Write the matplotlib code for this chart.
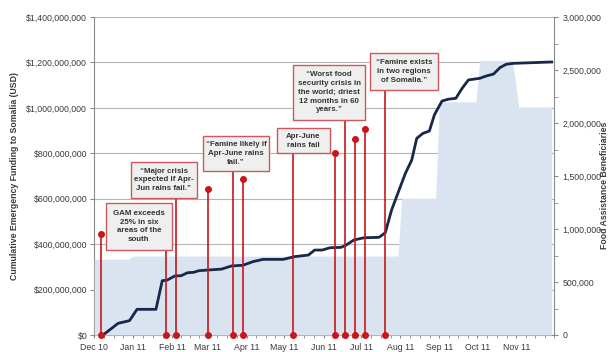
import datetime as dt
import matplotlib
matplotlib.use("Agg")
import matplotlib.pyplot as plt
import matplotlib.dates as mdates
from matplotlib.patches import Rectangle
from matplotlib.ticker import FuncFormatter, MultipleLocator, FixedLocator

plt.rcParams['font.family'] = ['Liberation Sans', 'DejaVu Sans']

# Cumulative emergency funding to Somalia (USD)
funding_dates = [
    "2010-12-08", "2010-12-20", "2010-12-29", "2011-01-04", "2011-01-19",
    "2011-01-24", "2011-01-28", "2011-02-03", "2011-02-08", "2011-02-13",
    "2011-02-18", "2011-02-22", "2011-03-01", "2011-03-12", "2011-03-20",
    "2011-03-29", "2011-04-06", "2011-04-14", "2011-04-30", "2011-05-09",
    "2011-05-20", "2011-05-25", "2011-05-31", "2011-06-06", "2011-06-15",
    "2011-06-19", "2011-06-25", "2011-07-03", "2011-07-15", "2011-07-20",
    "2011-07-25", "2011-07-30", "2011-08-05", "2011-08-10", "2011-08-14",
    "2011-08-19", "2011-08-24", "2011-08-28", "2011-09-03", "2011-09-08",
    "2011-09-14", "2011-09-19", "2011-09-24", "2011-10-03", "2011-10-08",
    "2011-10-14", "2011-10-19", "2011-10-24", "2011-10-30", "2011-11-29",
]
funding_usd = [
    0, 51.5e6, 63e6, 113e6, 113e6,
    239e6, 242e6, 260e6, 261e6, 274e6,
    276e6, 283e6, 286e6, 290e6, 304e6,
    307e6, 323e6, 333e6, 333e6, 345e6,
    352e6, 374e6, 374e6, 384e6, 386e6,
    396e6, 418e6, 428e6, 430e6, 450e6,
    550e6, 624e6, 712e6, 770e6, 866e6,
    888e6, 898e6, 969e6, 1030e6, 1038e6,
    1042e6, 1086e6, 1123e6, 1130e6, 1140e6,
    1149e6, 1177e6, 1192e6, 1196e6, 1202e6,
]

# Food assistance beneficiaries
beneficiary_dates = [
    "2010-12-01", "2010-12-28", "2011-01-01", "2011-07-30", "2011-08-02",
    "2011-08-29", "2011-09-01", "2011-09-30", "2011-10-03", "2011-10-29",
    "2011-11-03", "2011-11-29",
]
beneficiaries = [
    715000, 715000, 745000, 745000, 1290000,
    1290000, 2200000, 2200000, 2590000, 2590000,
    2150000, 2150000,
]

# Early-warning events
event_dates = [
    "2010-12-06", "2011-01-27", "2011-02-04", "2011-03-01", "2011-03-21",
    "2011-03-29", "2011-05-08", "2011-06-10", "2011-06-18", "2011-06-26",
    "2011-07-04", "2011-07-20",
]
event_labels = [
    None,
    "GAM exceeds\n25% in six\nareas of the\nsouth",
    "\u201cMajor crisis\nexpected if Apr-\nJun rains fail.\u201d",
    None,
    "\u201cFamine likely if\nApr-June rains\nfail.\u201d",
    None,
    "Apr-June\nrains fail",
    None,
    "\u201cWorst food\nsecurity crisis in\nthe world; driest\n12 months in 60\nyears.\u201d",
    None,
    None,
    "\u201cFamine exists\nin two regions\nof Somalia.\u201d",
]
# Marker height (USD) for events shown without a callout
event_marker_usd = [445e6, None, None, 641e6, None, 688e6, None, 800e6, None, 863e6, 907e6, None]

# Callout boxes (axes fraction: x0, x1, y0, y1), in order of labelled events
box_extents = [
    (0.0257, 0.1685, 0.2673, 0.4151),
    (0.0800, 0.2235, 0.4318, 0.5431),
    (0.2359, 0.3807, 0.5157, 0.6267),
    (0.3975, 0.5128, 0.5714, 0.6500),
    (0.4329, 0.5888, 0.6761, 0.8491),
    (0.5997, 0.7465, 0.7704, 0.8858),
]

to_date = lambda s: dt.datetime.strptime(s, "%Y-%m-%d")
f_dates = [to_date(s) for s in funding_dates]
b_dates = [to_date(s) for s in beneficiary_dates]
e_dates = [to_date(s) for s in event_dates]

RED = "#c8161b"
NAVY = "#17284a"
AREA = "#dae4f0"
SPINE = "#8a8a8a"
TXT = "#3a3a3a"
YMAX_USD = 1.4e9

fig = plt.figure(figsize=(6.11, 3.52), dpi=100)
pos = [94.2 / 611, 17 / 352, 459.9 / 611, 318 / 352]

ax = fig.add_axes(pos)
ax_area = ax.twinx()
ax_top = fig.add_axes(pos, sharex=ax, sharey=ax)
ax_top.axis("off")
ax_top.patch.set_visible(False)

# Left axis with gridlines
ax.set_ylim(0, YMAX_USD)
ax.yaxis.set_major_locator(MultipleLocator(2e8))
ax.yaxis.set_major_formatter(FuncFormatter(lambda v, p: "$" + format(int(round(v)), ",")))
ax.grid(axis="y", color="#b4b4b4", lw=0.8)
ax.set_axisbelow(True)
ax.set_xlim(dt.datetime(2010, 12, 1), dt.datetime(2011, 12, 1))

# Month labels and quarter-month ticks
months = [dt.datetime(2010, 12, 1)] + [dt.datetime(2011, m, 1) for m in range(1, 12)]
month_ends = months[1:] + [dt.datetime(2011, 12, 1)]
ax.xaxis.set_major_locator(FixedLocator(mdates.date2num(months)))
ax.xaxis.set_major_formatter(mdates.DateFormatter("%b %y"))
minor = []
for a, b in zip(months, month_ends):
    step = (b - a) / 4
    minor += [a + step * k for k in (1, 2, 3)]
minor.append(dt.datetime(2011, 12, 1))
ax.xaxis.set_minor_locator(FixedLocator(mdates.date2num(minor)))

for side in ("top", "right"):
    ax.spines[side].set_visible(False)
for side in ("left", "bottom"):
    ax.spines[side].set_color(SPINE)
ax.tick_params(axis="y", which="both", direction="out", length=3, color=SPINE,
               labelsize=6.3, labelcolor=TXT, pad=2)
ax.tick_params(axis="x", which="both", direction="inout", length=5, color=SPINE,
               labelsize=6.3, labelcolor=TXT, pad=3)
ax.set_ylabel("Cumulative Emergency Funding to Somalia (USD)", fontsize=6.3,
              fontweight="bold", color=TXT, labelpad=5)

# Right axis: beneficiaries area
ax_area.fill_between(b_dates, 0, beneficiaries, color=AREA, lw=0)
ax_area.set_ylim(0, 3e6)
ax_area.yaxis.set_major_locator(MultipleLocator(5e5))
ax_area.yaxis.set_minor_locator(MultipleLocator(2.5e5))
ax_area.yaxis.set_major_formatter(FuncFormatter(lambda v, p: format(int(round(v)), ",")))
for side in ("top", "left", "bottom"):
    ax_area.spines[side].set_visible(False)
ax_area.spines["right"].set_color(SPINE)
ax_area.tick_params(axis="y", which="both", direction="out", length=3, color=SPINE,
                    labelsize=6.3, labelcolor=TXT, pad=3)
fig.text(604.5 / 611, 1 - 185 / 352, "Food Assistance Beneficiaries", rotation=90,
         ha="center", va="center", fontsize=6.3, fontweight="bold", color=TXT)

# Funding line
ax_top.plot(f_dates, funding_usd, color=NAVY, lw=2.0, solid_joinstyle="round", zorder=4)

# Event stems, markers and callouts
box_iter = iter(box_extents)
for d, lab, mval in zip(e_dates, event_labels, event_marker_usd):
    if lab is None:
        top = mval
        ax_top.plot([d], [top], "o", color=RED, ms=4, zorder=6)
    else:
        x0, x1, y0, y1 = next(box_iter)
        top = y0 * YMAX_USD
        ax_top.add_patch(Rectangle((x0, y0), x1 - x0, y1 - y0, transform=ax_top.transAxes,
                                   facecolor="#efefef", edgecolor="#d0585a", lw=1.0,
                                   zorder=7, clip_on=False))
        ax_top.text((x0 + x1) / 2, (y0 + y1) / 2, lab, transform=ax_top.transAxes,
                    ha="center", va="center", fontsize=5.7, fontweight="bold",
                    color="#333333", linespacing=1.35, zorder=8)
    ax_top.vlines(d, 0, top, color=RED, lw=1.2, zorder=5)
    ax_top.plot([d], [0], "o", color=RED, ms=4, zorder=6, clip_on=False)

fig.savefig("out.png", dpi=100)
